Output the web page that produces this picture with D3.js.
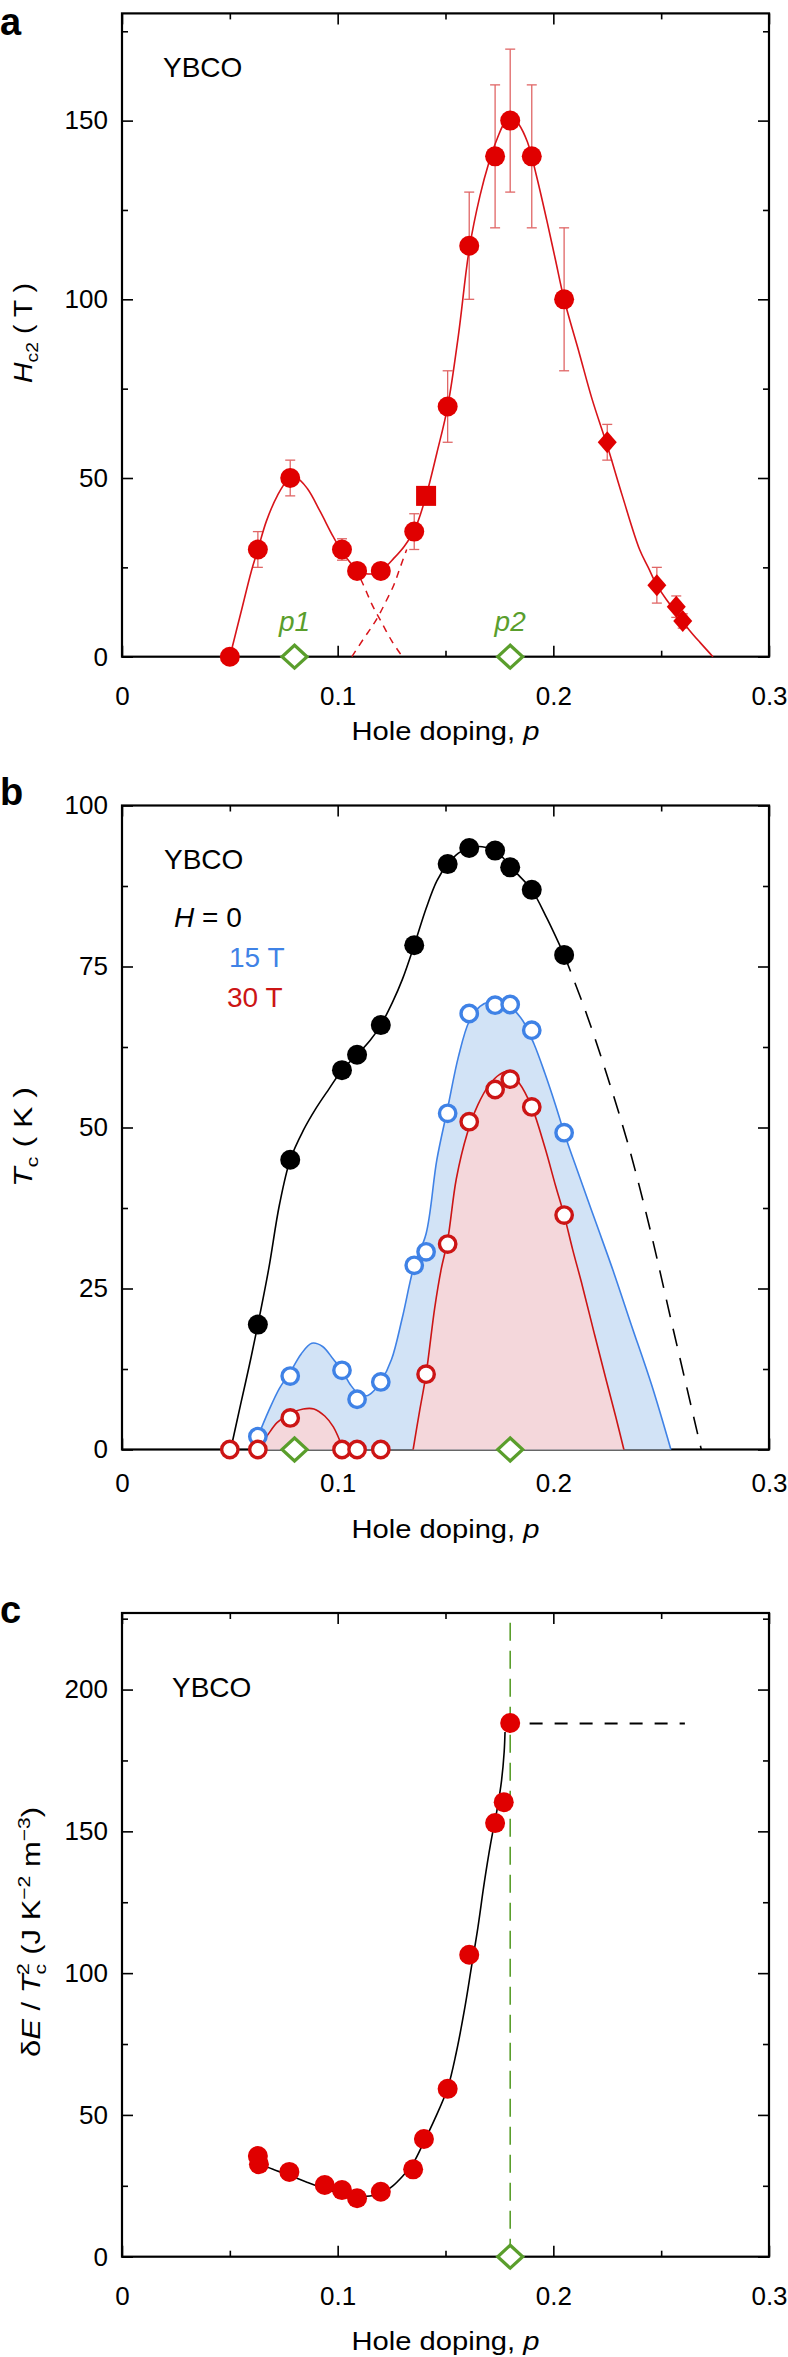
<!DOCTYPE html>
<html><head><meta charset="utf-8">
<script src="https://cdn.jsdelivr.net/npm/d3@7"></script>
<style>
body{margin:0;background:#fff}
svg{display:block}
text{font-family:"Liberation Sans",Arial,Helvetica,sans-serif}
</style>
</head><body>
<svg id="fig" width="788" height="2357"></svg>
<script>
// ---------- shared axis data ----------
const xMajorTicks = [0, 0.1, 0.2, 0.3];
const xMinorTicks = [0.05, 0.15, 0.25];
const xTitleText = "Hole doping, ";
const markP = [0.08, 0.18];          // p1, p2 (green open diamonds)
const markLabels = ["p1", "p2"];

// ---------- panel a : Hc2 ----------
const aYMajor = [0, 50, 100, 150];
const aYMinor = [25, 75, 125, 175];
const aCircP   = [0.050, 0.063, 0.078, 0.102, 0.109, 0.120, 0.1355, 0.151, 0.161, 0.173, 0.180, 0.190, 0.205];
const aCircH   = [0, 30, 50, 30, 24, 24, 35, 70, 115, 140, 150, 140, 100];
const aCircErr = [0, 5, 5, 3, 0, 0, 5, 10, 15, 20, 20, 20, 20];
const aSqP = [0.141], aSqH = [45], aSqErr = [0];
const aDiaP = [0.225, 0.248, 0.257, 0.260];
const aDiaH = [60, 20, 14, 10];
const aDiaErr = [5, 5, 3, 2];
const aFitP = [0.050,0.055,0.060,0.063,0.067,0.072,0.077,0.081,0.086,0.092,0.098,0.103,0.108,0.113,0.117,0.121,0.126,0.131,0.136,0.141,0.146,0.151,0.156,0.161,0.166,0.170,0.174,0.178,0.181,0.184,0.188,0.192,0.197,0.201,0.205,0.212,0.218,0.225,0.232,0.240,0.244,0.248,0.253,0.258,0.263,0.268,0.274];
const aFitH = [0,12,24,30,38,45,49.5,50,47,40.5,33.5,28.5,25,23.3,23.3,24.5,27.5,31,36,45,57,70,90,114,129,138,145,150,151,149,144,135,122,111,100,85,72,59,45,30,25,20,15.5,11.5,7.5,4,0];
const aDash1P = [0.108,0.112,0.116,0.120,0.125,0.130];
const aDash1H = [25,20,14.5,10,4.5,0];
const aDash2P = [0.1066,0.112,0.116,0.119,0.122,0.126,0.129,0.132];
const aDash2H = [0,5,8.5,11.5,15,20,25,30];

// ---------- panel b : Tc ----------
const bYMajor = [0, 25, 50, 75, 100];
const bYMinor = [12.5, 37.5, 62.5, 87.5];
const bH0P = [0.063,0.078,0.102,0.109,0.120,0.1355,0.151,0.161,0.173,0.180,0.190,0.205];
const bH0T = [19.4,45,58.9,61.3,65.9,78.3,90.9,93.4,93.0,90.4,86.9,76.8];
const bH0FitP = [0.0504,0.055,0.059,0.063,0.068,0.073,0.078,0.084,0.090,0.096,0.102,0.109,0.115,0.120,0.1255,0.130,0.1355,0.141,0.146,0.151,0.156,0.161,0.167,0.173,0.178,0.183,0.190,0.197,0.205];
const bH0FitT = [0,7,13,19.4,28,38,45,49.5,53,56,58.9,61.3,63.5,65.9,69.5,73,78.3,84,88.3,90.9,92.6,93.4,93.6,93,91.4,89.5,86.9,82.5,76.8];
const bH0DashP = [0.205,0.215,0.225,0.235,0.245,0.255,0.2686];
const bH0DashT = [76.8,68,58,47,34,19.5,0];
const b15P = [0.063,0.078,0.102,0.109,0.120,0.1355,0.141,0.151,0.161,0.173,0.180,0.190,0.205];
const b15T = [2.0,11.4,12.3,7.8,10.5,28.6,30.7,52.2,67.7,69.0,69.1,65.1,49.2];
const b15FitP = [0.063,0.068,0.073,0.078,0.083,0.088,0.093,0.098,0.102,0.106,0.110,0.114,0.117,0.120,0.125,0.130,0.1355,0.141,0.146,0.151,0.156,0.161,0.166,0.171,0.176,0.181,0.186,0.191,0.196,0.201,0.205,0.212,0.220,0.228,0.236,0.2456,0.2545];
const b15FitT = [2,6,9.5,12,14.8,16.5,16,14,12.3,10,8.6,8.4,9.2,10.5,14,20.5,28.6,33.5,45,53,61,66.5,68.8,69.6,69.7,68.5,66.5,63,58.5,53.5,49.2,42.5,35,27.5,19.5,10,0];
const b30P = [0.050,0.063,0.078,0.102,0.109,0.120,0.141,0.151,0.161,0.173,0.180,0.190,0.205];
const b30T = [0,0,4.9,0,0,0,11.7,31.9,50.9,55.9,57.5,53.2,36.4];
const b30Fit1P = [0.0635,0.067,0.072,0.078,0.084,0.089,0.094,0.098,0.1026];
const b30Fit1T = [0.5,2,4.2,5.6,6.3,6.3,5.2,3.5,0];
const b30Fit2P = [0.135,0.138,0.141,0.145,0.148,0.151,0.155,0.160,0.165,0.170,0.175,0.179,0.184,0.190,0.196,0.201,0.205,0.209,0.213,0.219,0.2245,0.229,0.2327];
const b30Fit2T = [0,6,11.7,22,28,32.5,42,49,53.5,56.5,58.2,58.7,57,53.2,47,41,36.4,31,26,18,10.8,5,0];

// ---------- panel c : condensation energy ----------
const cYMajor = [0, 50, 100, 150, 200];
const cYMinor = [25, 75, 125, 175, 225];
const cP = [0.063,0.0635,0.0776,0.094,0.102,0.109,0.120,0.135,0.140,0.151,0.161,0.173,0.177,0.180];
const cV = [35.5,32.6,29.9,25.3,23.5,20.6,22.9,30.8,41.5,59.2,106.5,152.9,160.3,188.2];
const cFitP = [0.063,0.070,0.078,0.086,0.094,0.102,0.108,0.115,0.120,0.125,0.130,0.135,0.140,0.145,0.151,0.155,0.159,0.162,0.165,0.168,0.171,0.174,0.176,0.1772,0.1776];
const cFitV = [33,30.8,28.6,26.2,24,22.2,21.4,21.4,22.2,24.6,28.3,33,40.5,48.5,59.5,72,88,102,116,132,146,158,168,178,185];
const cPlateauP = [0.189, 0.261], cPlateauV = [188, 188];

// ---------- colours ----------
const RED = "#e00000", REDLINE = "#d8141a", ERR = "#e06666";
const GREEN = "#5a9e2c", BLUE = "#3f82e6", BLUEFILL = "#d2e3f6";
const RED2 = "#cc1515", PINK = "#f4d7db";

// ---------- scales ----------
const svg = d3.select("#fig");
const X = d3.scaleLinear().domain([0, 0.3]).range([122, 769]);
const yA = d3.scaleLinear().domain([0, 180]).range([656.7, 13.4]);
const yB = d3.scaleLinear().domain([0, 100]).range([1449.5, 805.5]);
const yC = d3.scaleLinear().domain([0, 227]).range([2256.7, 1613]);
const zip = (a, b) => a.map((v, i) => [v, b[i]]);
const curve = d3.curveCatmullRom.alpha(0.5);

function frame(y, yMajor, yMinor, tickBase, titleBase) {
  const g = svg.append("g");
  const y0 = y.range()[0], y1 = y.range()[1];
  const fmtX = d => d === 0 ? "0" : d3.format(".1f")(d);
  const pad = (tickBase - y0) - 0.71 * 26;
  const ax = (gen, tr) => g.append("g").attr("transform", tr).call(gen)
    .call(s => s.select(".domain").remove())
    .call(s => {
      s.selectAll("line").attr("stroke", "#000").attr("stroke-width", 1.6);
      s.selectAll("text").attr("font-size", 26).attr("fill", "#000")
        .attr("font-family", '"Liberation Sans",Arial,sans-serif');
    });
  ax(d3.axisBottom(X).tickValues(xMajorTicks).tickSize(-11).tickPadding(pad).tickFormat(fmtX), `translate(0,${y0})`);
  ax(d3.axisBottom(X).tickValues(xMinorTicks).tickSize(-6).tickFormat(""), `translate(0,${y0})`);
  ax(d3.axisTop(X).tickValues(xMajorTicks).tickSize(-11).tickFormat(""), `translate(0,${y1})`);
  ax(d3.axisTop(X).tickValues(xMinorTicks).tickSize(-6).tickFormat(""), `translate(0,${y1})`);
  ax(d3.axisLeft(y).tickValues(yMajor).tickSize(-11).tickPadding(14).tickFormat(d3.format("d")), `translate(122,0)`);
  ax(d3.axisLeft(y).tickValues(yMinor).tickSize(-6).tickFormat(""), `translate(122,0)`);
  ax(d3.axisRight(y).tickValues(yMajor).tickSize(-11).tickFormat(""), `translate(769,0)`);
  ax(d3.axisRight(y).tickValues(yMinor).tickSize(-6).tickFormat(""), `translate(769,0)`);
  g.append("rect").attr("x", 122).attr("y", y1).attr("width", 647).attr("height", y0 - y1)
    .attr("fill", "none").attr("stroke", "#000").attr("stroke-width", 2.2);
  const t = g.append("text").attr("x", 445.5).attr("y", titleBase).attr("text-anchor", "middle")
    .attr("font-size", 25).attr("textLength", 188).attr("lengthAdjust", "spacingAndGlyphs").attr("fill", "#000");
  t.append("tspan").text(xTitleText);
  t.append("tspan").attr("font-style", "italic").text("p");
  return g;
}

function panelLetter(txt, x, y) {
  svg.append("text").attr("x", x).attr("y", y).attr("font-size", 38).attr("font-weight", "bold").text(txt);
}
function label(txt, x, y, color, size) {
  svg.append("text").attr("x", x).attr("y", y).attr("font-size", size || 28).attr("fill", color || "#000").text(txt);
}
function greenDiamonds(y) {
  svg.append("g").selectAll("path").data(markP).join("path")
    .attr("transform", d => `translate(${X(d)},${y(0)})`)
    .attr("d", "M0,-11.5L12.5,0L0,11.5L-12.5,0Z")
    .attr("fill", "#fff").attr("stroke", GREEN).attr("stroke-width", 3.2);
}
function errBars(g, P, V, E, y) {
  const d = P.map((p, i) => ({ p, v: V[i], e: E[i] })).filter(d => d.e > 0);
  const gg = g.append("g").attr("stroke", ERR).attr("stroke-width", 1.3);
  gg.selectAll(".v").data(d).join("line").attr("x1", d => X(d.p)).attr("x2", d => X(d.p))
    .attr("y1", d => y(d.v - d.e)).attr("y2", d => y(d.v + d.e));
  [-1, 1].forEach(s => gg.selectAll(".c" + s).data(d).join("line")
    .attr("x1", d => X(d.p) - 5).attr("x2", d => X(d.p) + 5)
    .attr("y1", d => y(d.v + s * d.e)).attr("y2", d => y(d.v + s * d.e)));
}
function path(data, y, color, width, dash) {
  const p = svg.append("path").attr("d", d3.line().x(d => X(d[0])).y(d => y(d[1])).curve(curve)(data))
    .attr("fill", "none").attr("stroke", color).attr("stroke-width", width);
  if (dash) p.attr("stroke-dasharray", dash);
  return p;
}
function area(data, y, color) {
  svg.append("path").attr("d", d3.area().x(d => X(d[0])).y0(y(0)).y1(d => y(d[1])).curve(curve)(data))
    .attr("fill", color).attr("stroke", "none");
}

// ================= PANEL A =================
frame(yA, aYMajor, aYMinor, 705, 740);
panelLetter("a", 0, 35);
label("YBCO", 163, 77, "#000", 28);
{
  const t = svg.append("text").attr("transform", "translate(32,333) rotate(-90)")
    .attr("text-anchor", "middle").attr("font-size", 25).attr("textLength", 100).attr("lengthAdjust", "spacingAndGlyphs");
  t.append("tspan").attr("font-style", "italic").text("H");
  t.append("tspan").attr("font-size", 17).attr("dy", 6).text("c2");
  t.append("tspan").attr("dy", -6).text(" ( T )");
}
errBars(svg, aCircP, aCircH, aCircErr, yA);
errBars(svg, aDiaP, aDiaH, aDiaErr, yA);
path(zip(aFitP, aFitH), yA, REDLINE, 1.6);
path(zip(aDash1P, aDash1H), yA, REDLINE, 1.5, "7,6");
path(zip(aDash2P, aDash2H), yA, REDLINE, 1.5, "7,6");
svg.append("g").selectAll("circle").data(zip(aCircP, aCircH)).join("circle")
  .attr("cx", d => X(d[0])).attr("cy", d => yA(d[1])).attr("r", 10).attr("fill", RED);
svg.append("g").selectAll("rect").data(zip(aSqP, aSqH)).join("rect")
  .attr("x", d => X(d[0]) - 10).attr("y", d => yA(d[1]) - 10).attr("width", 20).attr("height", 20).attr("fill", RED);
svg.append("g").selectAll("path").data(zip(aDiaP, aDiaH)).join("path")
  .attr("transform", d => `translate(${X(d[0])},${yA(d[1])})`)
  .attr("d", "M0,-11L9.5,0L0,11L-9.5,0Z").attr("fill", RED);
greenDiamonds(yA);
markP.forEach((p, i) => {
  svg.append("text").attr("x", X(p)).attr("y", 631).attr("text-anchor", "middle")
    .attr("font-size", 28).attr("font-style", "italic").attr("fill", GREEN).text(markLabels[i]);
});

// ================= PANEL B =================
frame(yB, bYMajor, bYMinor, 1492, 1538);
panelLetter("b", 0, 805);
label("YBCO", 164, 869, "#000", 28);
{
  const t = svg.append("text").attr("x", 174).attr("y", 927).attr("font-size", 28);
  t.append("tspan").attr("font-style", "italic").text("H");
  t.append("tspan").text(" = 0");
}
label("15 T", 229, 967, BLUE, 28);
label("30 T", 227, 1007, RED2, 28);
{
  const t = svg.append("text").attr("transform", "translate(32,1137) rotate(-90)")
    .attr("text-anchor", "middle").attr("font-size", 25).attr("textLength", 100).attr("lengthAdjust", "spacingAndGlyphs");
  t.append("tspan").attr("font-style", "italic").text("T");
  t.append("tspan").attr("font-size", 17).attr("dy", 6).text("c");
  t.append("tspan").attr("dy", -6).text(" ( K )");
}
area(zip(b15FitP, b15FitT), yB, BLUEFILL);
area(zip(b30Fit1P, b30Fit1T), yB, PINK);
area(zip(b30Fit2P, b30Fit2T), yB, PINK);
path(zip(b15FitP, b15FitT), yB, BLUE, 1.6);
path(zip(b30Fit1P, b30Fit1T), yB, RED2, 1.6);
path(zip(b30Fit2P, b30Fit2T), yB, RED2, 1.6);
path(zip(bH0FitP, bH0FitT), yB, "#000", 1.6);
path(zip(bH0DashP, bH0DashT), yB, "#000", 1.6, "18,12");
svg.append("g").selectAll("circle").data(zip(bH0P, bH0T)).join("circle")
  .attr("cx", d => X(d[0])).attr("cy", d => yB(d[1])).attr("r", 10).attr("fill", "#000");
svg.append("g").selectAll("circle").data(zip(b15P, b15T)).join("circle")
  .attr("cx", d => X(d[0])).attr("cy", d => yB(d[1])).attr("r", 8.2)
  .attr("fill", "#fff").attr("stroke", BLUE).attr("stroke-width", 3.4);
svg.append("g").selectAll("circle").data(zip(b30P, b30T)).join("circle")
  .attr("cx", d => X(d[0])).attr("cy", d => yB(d[1])).attr("r", 8.2)
  .attr("fill", "#fff").attr("stroke", RED2).attr("stroke-width", 3.4);
greenDiamonds(yB);

// ================= PANEL C =================
frame(yC, cYMajor, cYMinor, 2305, 2350);
panelLetter("c", 0, 1623);
label("YBCO", 172, 1697, "#000", 28);
{
  const t = svg.append("text").attr("transform", "translate(40,1932) rotate(-90)")
    .attr("text-anchor", "middle").attr("font-size", 25).attr("textLength", 250).attr("lengthAdjust", "spacingAndGlyphs");
  t.append("tspan").text("δ");
  t.append("tspan").attr("font-style", "italic").text("E");
  t.append("tspan").text(" / ");
  t.append("tspan").attr("font-style", "italic").text("T");
  t.append("tspan").attr("font-size", 17).attr("dy", 6).text("c");
  t.append("tspan").attr("font-size", 17).attr("dx", -9).attr("dy", -17).text("2");
  t.append("tspan").attr("dy", 11).text(" (J K");
  t.append("tspan").attr("font-size", 17).attr("dy", -10).text("−2");
  t.append("tspan").attr("dy", 10).text(" m");
  t.append("tspan").attr("font-size", 17).attr("dy", -10).text("−3");
  t.append("tspan").attr("dy", 10).text(")");
}
svg.append("line").attr("x1", X(0.18)).attr("x2", X(0.18)).attr("y1", yC(0)).attr("y2", yC(227))
  .attr("stroke", GREEN).attr("stroke-width", 1.6).attr("stroke-dasharray", "18,10");
path(zip(cPlateauP, cPlateauV), yC, "#000", 2, "13,12");
path(zip(cFitP, cFitV), yC, "#000", 1.6);
svg.append("g").selectAll("circle").data(zip(cP, cV)).join("circle")
  .attr("cx", d => X(d[0])).attr("cy", d => yC(d[1])).attr("r", 10).attr("fill", RED);
svg.append("path").attr("transform", `translate(${X(0.18)},${yC(0)})`)
  .attr("d", "M0,-11.5L12.5,0L0,11.5L-12.5,0Z")
  .attr("fill", "#fff").attr("stroke", GREEN).attr("stroke-width", 3.2);
</script>
</body></html>
